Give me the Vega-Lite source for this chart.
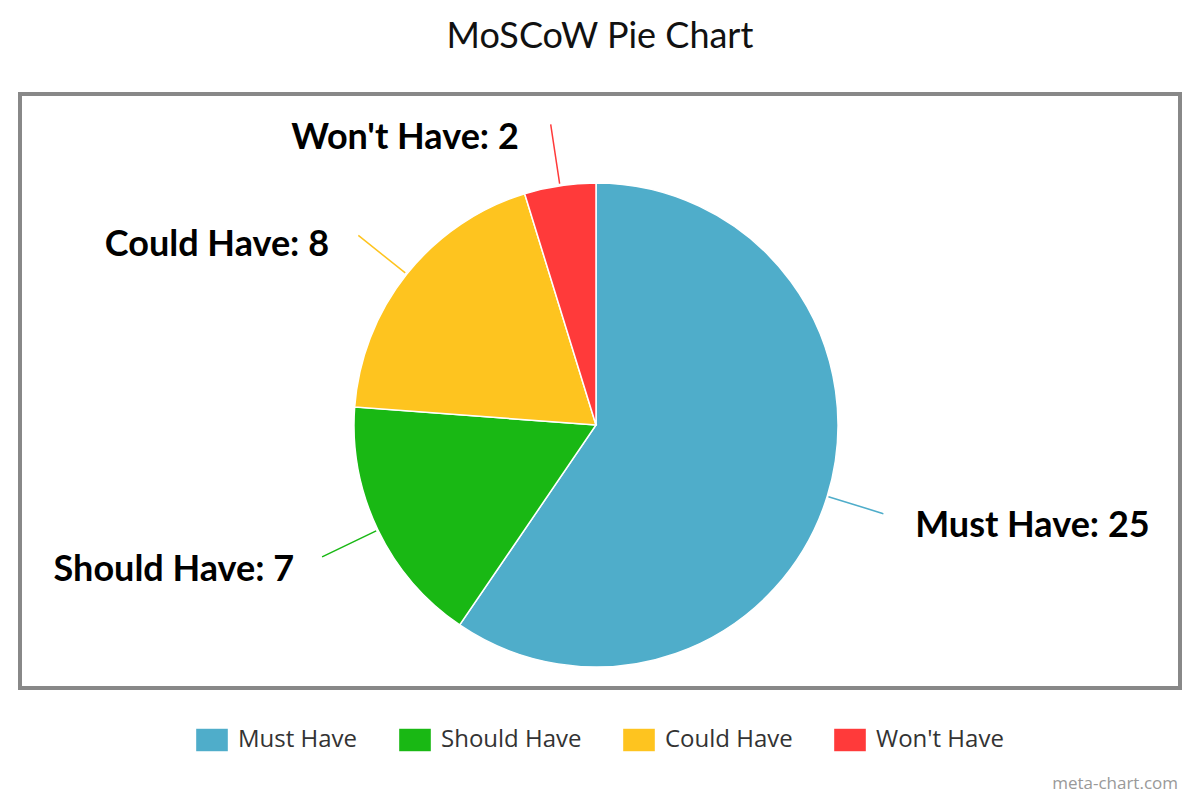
{
  "$schema": "https://vega.github.io/schema/vega-lite/v6.json",
  "autosize": "none",
  "width": 1160,
  "height": 594,
  "padding": {"left": 20, "top": 94, "right": 20, "bottom": 112},
  "background": "white",
  "title": {
    "text": "MoSCoW Pie Chart",
    "font": "Lato",
    "fontSize": 36,
    "fontWeight": "normal",
    "color": "#111",
    "anchor": "middle",
    "offset": 20
  },
  "data": {
    "values": [
      {"category": "Must Have", "value": 25, "rank": 1, "label": "Must Have: 25"},
      {"category": "Should Have", "value": 7, "rank": 2, "label": "Should Have: 7"},
      {"category": "Could Have", "value": 8, "rank": 3, "label": "Could Have: 8"},
      {"category": "Won't Have", "value": 2, "rank": 4, "label": "Won't Have: 2"}
    ]
  },
  "layer": [
    {
      "data": {"values": [{"frame": 1}]},
      "mark": {"type": "rect", "fill": "transparent", "stroke": "#888", "strokeWidth": 4},
      "encoding": {}
    },
    {
      "mark": {"type": "arc", "radius": 242, "stroke": "white", "strokeWidth": 1.5, "xOffset": -4, "yOffset": 34},
      "encoding": {
        "theta": {"field": "value", "type": "quantitative", "stack": true},
        "order": {"field": "rank", "type": "quantitative"},
        "color": {
          "field": "category",
          "type": "nominal",
          "sort": ["Must Have", "Should Have", "Could Have", "Won't Have"],
          "scale": {
            "domain": ["Must Have", "Should Have", "Could Have", "Won't Have"],
            "range": ["#4fadca", "#19b814", "#fec41f", "#ff3a3a"]
          },
          "legend": {
            "title": null,
            "orient": "bottom",
            "direction": "horizontal",
            "symbolType": "M-1,-0.71H1V0.71H-1Z",
            "symbolSize": 1000,
            "symbolStrokeWidth": 0,
            "labelFont": "Open Sans",
            "labelFontSize": 24,
            "labelColor": "#333",
            "labelOffset": 10,
            "columnPadding": 41,
            "offset": 36,
            "padding": 0
          }
        }
      }
    },
    {
      "mark": {"type": "arc", "radius": 304, "radius2": 244, "padAngle": 3, "filled": false, "strokeWidth": 1.5, "xOffset": -4, "yOffset": 34},
      "encoding": {
        "theta": {"field": "value", "type": "quantitative", "stack": true},
        "order": {"field": "rank", "type": "quantitative"},
        "color": {
          "field": "category",
          "type": "nominal",
          "sort": ["Must Have", "Should Have", "Could Have", "Won't Have"],
          "legend": null
        },
        "opacity": {"condition": {"test": "datum.rank == 1", "value": 0}, "value": 1}
      }
    },
    {
      "transform": [{"filter": "datum.rank == 1"}],
      "mark": {"type": "arc", "radius": 300, "radius2": 244, "filled": false, "strokeWidth": 1.5, "xOffset": -4, "yOffset": 34},
      "encoding": {
        "theta": {"field": "value", "type": "quantitative", "stack": true, "scale": {"range": [1.8699, 1.8701]}},
        "color": {
          "field": "category",
          "type": "nominal",
          "sort": ["Must Have", "Should Have", "Could Have", "Won't Have"],
          "legend": null
        }
      }
    },
    {
      "mark": {"type": "text", "radius": 334, "align": "left", "baseline": "middle", "font": "Lato", "fontWeight": "bold", "fontSize": 36, "color": "#000", "xOffset": -4, "yOffset": 34, "dy": 3},
      "encoding": {
        "theta": {"field": "value", "type": "quantitative", "stack": true},
        "order": {"field": "rank", "type": "quantitative"},
        "text": {"field": "label"},
        "opacity": {"condition": {"test": "datum.rank == 1", "value": 1}, "value": 0}
      }
    },
    {
      "mark": {"type": "text", "radius": 335, "align": "right", "baseline": "middle", "font": "Lato", "fontWeight": "bold", "fontSize": 36, "color": "#000", "xOffset": -4, "yOffset": 34},
      "encoding": {
        "theta": {"field": "value", "type": "quantitative", "stack": true},
        "order": {"field": "rank", "type": "quantitative"},
        "text": {"field": "label"},
        "opacity": {"condition": {"test": "datum.rank == 2", "value": 1}, "value": 0}
      }
    },
    {
      "mark": {"type": "text", "radius": 321, "align": "right", "baseline": "middle", "font": "Lato", "fontWeight": "bold", "fontSize": 36, "color": "#000", "xOffset": -4, "yOffset": 34, "dx": -16, "dy": 20},
      "encoding": {
        "theta": {"field": "value", "type": "quantitative", "stack": true},
        "order": {"field": "rank", "type": "quantitative"},
        "text": {"field": "label"},
        "opacity": {"condition": {"test": "datum.rank == 3", "value": 1}, "value": 0}
      }
    },
    {
      "mark": {"type": "text", "radius": 290, "align": "right", "baseline": "middle", "font": "Lato", "fontWeight": "bold", "fontSize": 36, "color": "#000", "xOffset": -4, "yOffset": 34, "dx": -34},
      "encoding": {
        "theta": {"field": "value", "type": "quantitative", "stack": true},
        "order": {"field": "rank", "type": "quantitative"},
        "text": {"field": "label"},
        "opacity": {"condition": {"test": "datum.rank == 4", "value": 1}, "value": 0}
      }
    },
    {
      "data": {"values": [{"credit": "meta-chart.com"}]},
      "mark": {"type": "text", "x": {"expr": "width - 2"}, "y": {"expr": "height + 101"}, "align": "right", "baseline": "alphabetic", "font": "Open Sans", "fontSize": 17, "color": "#999"},
      "encoding": {"text": {"field": "credit"}}
    }
  ],
  "resolve": {"scale": {"theta": "independent"}},
  "config": {
    "view": {"stroke": null},
    "legend": {"layout": {"bottom": {"anchor": "middle"}}}
  }
}
